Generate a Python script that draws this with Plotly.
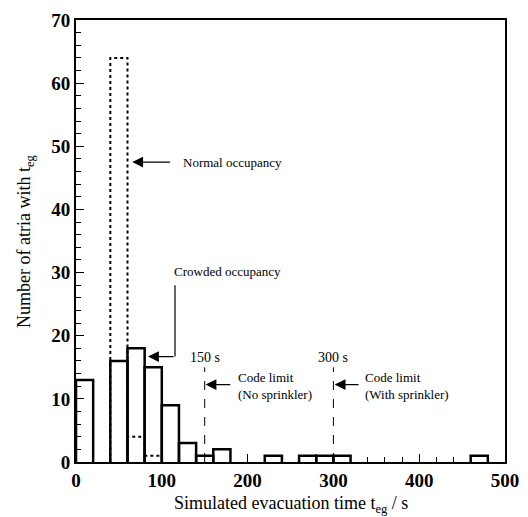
import plotly.graph_objects as go

# ---- data ----
bin_width = 20
bin_starts = list(range(0, 500, 20))
crowded = [13, 0, 16, 18, 15, 9, 3, 1, 2, 0, 0, 1, 0, 1, 1, 1, 0, 0, 0, 0, 0, 0, 0, 1, 0]
normal = [0, 0, 64, 4, 1, 0, 0, 0, 0, 0, 0, 0, 0, 0, 0, 0, 0, 0, 0, 0, 0, 0, 0, 0, 0]
x_ticks = [0, 100, 200, 300, 400, 500]
y_ticks = [0, 10, 20, 30, 40, 50, 60, 70]
code_limits = [150, 300]

FONT = "Liberation Serif, Times New Roman, serif"


def outline(starts, counts, w):
    xs, ys = [], []
    for s, c in zip(starts, counts):
        if c <= 0:
            continue
        xs += [s, s, s + w, s + w, None]
        ys += [0, c, c, 0, None]
    return xs, ys


fig = go.Figure()
nx, ny = outline(bin_starts, normal, bin_width)
fig.add_trace(go.Scatter(x=nx, y=ny, mode="lines", line=dict(color="black", width=2, dash="dot"),
                         showlegend=False, hoverinfo="skip"))
cx, cy = outline(bin_starts, crowded, bin_width)
fig.add_trace(go.Scatter(x=cx, y=cy, mode="lines", line=dict(color="black", width=2.5),
                         showlegend=False, hoverinfo="skip"))

# code limit dashed lines
for cl in code_limits:
    fig.add_trace(go.Scatter(x=[cl, cl], y=[0, 15], mode="lines",
                             line=dict(color="black", width=1, dash="dash"),
                             showlegend=False, hoverinfo="skip"))

ann_font = dict(family=FONT, size=13, color="black")
arrow = dict(xref="x", yref="y", axref="x", ayref="y", text="", showarrow=True,
             arrowhead=2, arrowsize=1.8, arrowwidth=1.2, arrowcolor="black",
             font=dict(size=1))
anns = []
# Normal occupancy
anns.append(dict(x=65.6, y=47.5, ax=111.5, ay=47.5, **arrow))
anns.append(dict(x=122.4, y=47.5, xref="x", yref="y", text="Normal occupancy", showarrow=False,
                 xanchor="left", yanchor="middle", font=ann_font))
# Crowded occupancy
anns.append(dict(x=111.9, y=30.1, xref="x", yref="y", text="Crowded occupancy", showarrow=False,
                 xanchor="left", yanchor="middle", font=ann_font))
anns.append(dict(x=84, y=16.7, ax=115.4, ay=16.7, **arrow))
# 150 s / 300 s
anns.append(dict(x=150, y=16.6, xref="x", yref="y", text="150 s", showarrow=False,
                 xanchor="center", yanchor="middle", font=dict(family=FONT, size=14, color="black")))
anns.append(dict(x=300, y=16.6, xref="x", yref="y", text="300 s", showarrow=False,
                 xanchor="center", yanchor="middle", font=dict(family=FONT, size=14, color="black")))
anns.append(dict(x=151, y=12.26, ax=181.5, ay=12.26, **arrow))
anns.append(dict(x=301.5, y=12.26, ax=331, ay=12.26, **arrow))
anns.append(dict(x=186, y=12.0, xref="x", yref="y", text="Code limit<br>(No sprinkler)", showarrow=False,
                 xanchor="left", yanchor="middle", align="left", font=ann_font))
anns.append(dict(x=334, y=12.0, xref="x", yref="y", text="Code limit<br>(With sprinkler)", showarrow=False,
                 xanchor="left", yanchor="middle", align="left", font=ann_font))
# axis titles (placed as annotations for exact positioning)
anns.append(dict(x=0.5, y=-0.097, xref="paper", yref="paper", showarrow=False,
                 text="Simulated evacuation time t<sub>eg</sub> / s", xanchor="center", yanchor="middle",
                 font=dict(family=FONT, size=18, color="black")))
anns.append(dict(x=-0.119, y=0.5, xref="paper", yref="paper", showarrow=False, textangle=-90,
                 text="Number of atria with t<sub>eg</sub>", xanchor="center", yanchor="middle",
                 font=dict(family=FONT, size=18, color="black")))

fig.add_shape(type="line", x0=115.4, x1=115.4, y0=16.7, y1=28.0, xref="x", yref="y",
              line=dict(color="black", width=1.2))

# page has an 8px body margin, so the plot area is offset accordingly
fig.update_layout(
    width=528, height=517,
    margin=dict(l=68, r=31, t=12, b=63, autoexpand=False),
    paper_bgcolor="white", plot_bgcolor="white",
    annotations=anns,
    font=dict(family=FONT, color="black"),
)
fig.update_xaxes(
    range=[0, 500], tickvals=x_ticks, ticktext=[str(v) for v in x_ticks],
    ticks="inside", ticklen=8, tickwidth=1.2, tickcolor="black",
    minor=dict(dtick=20, ticks="inside", ticklen=5, tickwidth=1, tickcolor="black"),
    showline=True, linecolor="black", linewidth=2, mirror=True,
    showgrid=False, zeroline=False, automargin=False,
    tickfont=dict(family=FONT, size=19, color="black", weight="bold"),
)
fig.update_yaxes(
    range=[0, 70], tickvals=y_ticks, ticktext=[str(v) for v in y_ticks],
    ticks="inside", ticklen=8, tickwidth=1.2, tickcolor="black",
    minor=dict(dtick=2, ticks="inside", ticklen=5, tickwidth=1, tickcolor="black"),
    showline=True, linecolor="black", linewidth=2, mirror=True,
    showgrid=False, zeroline=False, automargin=False,
    tickfont=dict(family=FONT, size=19, color="black", weight="bold"),
)

fig.write_html("out.html")
